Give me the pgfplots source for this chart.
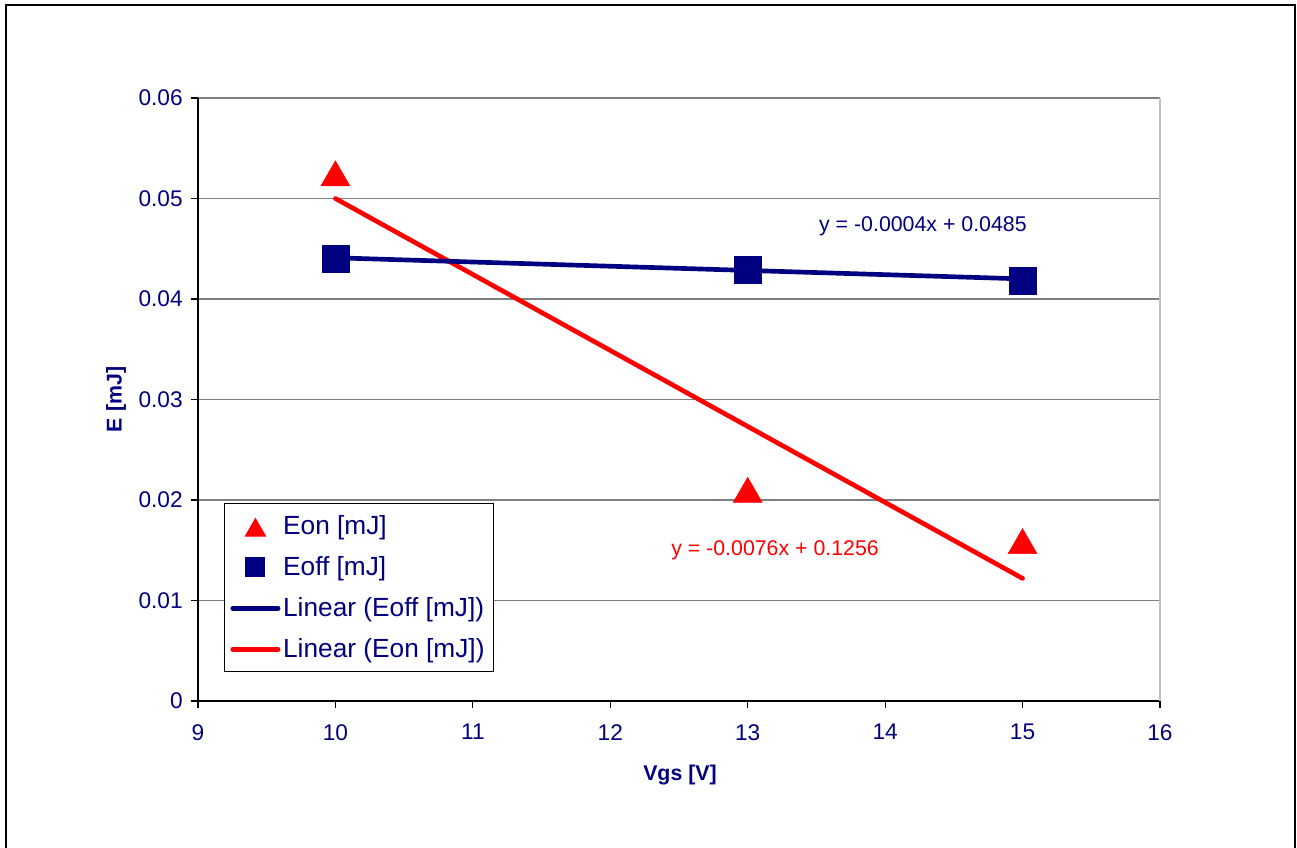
\documentclass[border=0pt]{standalone}
\usepackage{fontspec}
\setmainfont{Liberation Sans}
\usepackage{pgfplots}
\pgfplotsset{compat=1.18}
\definecolor{navy}{RGB}{0,0,128}
\definecolor{gridgray}{RGB}{128,128,128}
\begin{document}
\begin{tikzpicture}
\useasboundingbox (0,0) rectangle (972.75pt,636pt);
\draw[line width=2.2pt] (4.5pt,-20pt) rectangle (971.25pt,632.25pt);
\begin{axis}[
  at={(148.5pt,110.25pt)}, anchor=south west,
  scale only axis, width=721.5pt, height=452.25pt,
  xmin=9, xmax=16, ymin=0, ymax=0.06,
  xtick={9,10,...,16},
  ytick={0,0.01,0.02,0.03,0.04,0.05,0.06},
  yticklabels={0,0.01,0.02,0.03,0.04,0.05,0.06},
  scaled y ticks=false,
  axis x line*=bottom, axis y line*=left,
  axis line style={black, line width=0.8pt, -},
  tick align=outside, major tick length=5pt,
  tick style={black, line width=0.8pt},
  ymajorgrids, grid style={gridgray, line width=0.8pt},
  ticklabel style={font=\fontsize{17}{20}\selectfont, text=navy},
  xticklabel style={yshift=-9pt},
  yticklabel style={xshift=-3pt},
  /pgf/number format/assume math mode=true,
  legend style={at={(rel axis cs:0.027,0.328)}, anchor=north west, draw=black, line width=0.75pt, fill=white,
    font=\fontsize{19.7}{23}\selectfont, text=navy, inner xsep=4.5pt, inner ysep=7pt, row sep=11pt,
    nodes={inner sep=2pt}},
  reverse legend,
  legend cell align=left,
  legend image code/.code={\draw[mark repeat=2,mark phase=2] plot coordinates {(0pt,0pt) (17pt,0pt) (34pt,0pt)};},
  legend image post style={every mark/.append style={scale=0.7}},
  clip=false,
]
\draw[gray!50, line width=0.8pt] (rel axis cs:1,0) -- (rel axis cs:1,1);
\addplot[red, line width=3.5pt, line cap=round] coordinates {(10,0.0500) (15,0.0122)};
\addlegendentry{Linear (Eon [mJ])}
\addplot[navy, line width=3.5pt, line cap=round] coordinates {(10,0.0441) (15,0.0420)};
\addlegendentry{Linear (Eoff [mJ])}
\addplot[only marks, mark=square*, mark size=10.2pt, draw=navy, fill=navy] coordinates {(10,0.0440) (13,0.0429) (15,0.0418)};
\addlegendentry{Eoff [mJ]}
\addplot[only marks, mark=triangle*, mark size=12.5pt, draw=red, fill=red, mark options={yshift=-3.1pt}] coordinates {(10,0.0525) (13,0.0210) (15,0.0159)};
\addlegendentry{Eon [mJ]}
\node[font=\fontsize{16}{18}\selectfont, text=navy] at (axis cs:14.275,0.04726) {y = -0.0004x + 0.0485};
\node[font=\fontsize{16}{18}\selectfont, text=red] at (axis cs:13.199,0.01502) {y = -0.0076x + 0.1256};
\end{axis}
\node[font=\bfseries\fontsize{16}{19}\selectfont, text=navy] at (510pt,54.75pt) {Vgs [V]};
\node[rotate=90, font=\bfseries\fontsize{16}{19}\selectfont, text=navy] at (87pt,336.4pt) {E [mJ]};
\end{tikzpicture}
\end{document}
